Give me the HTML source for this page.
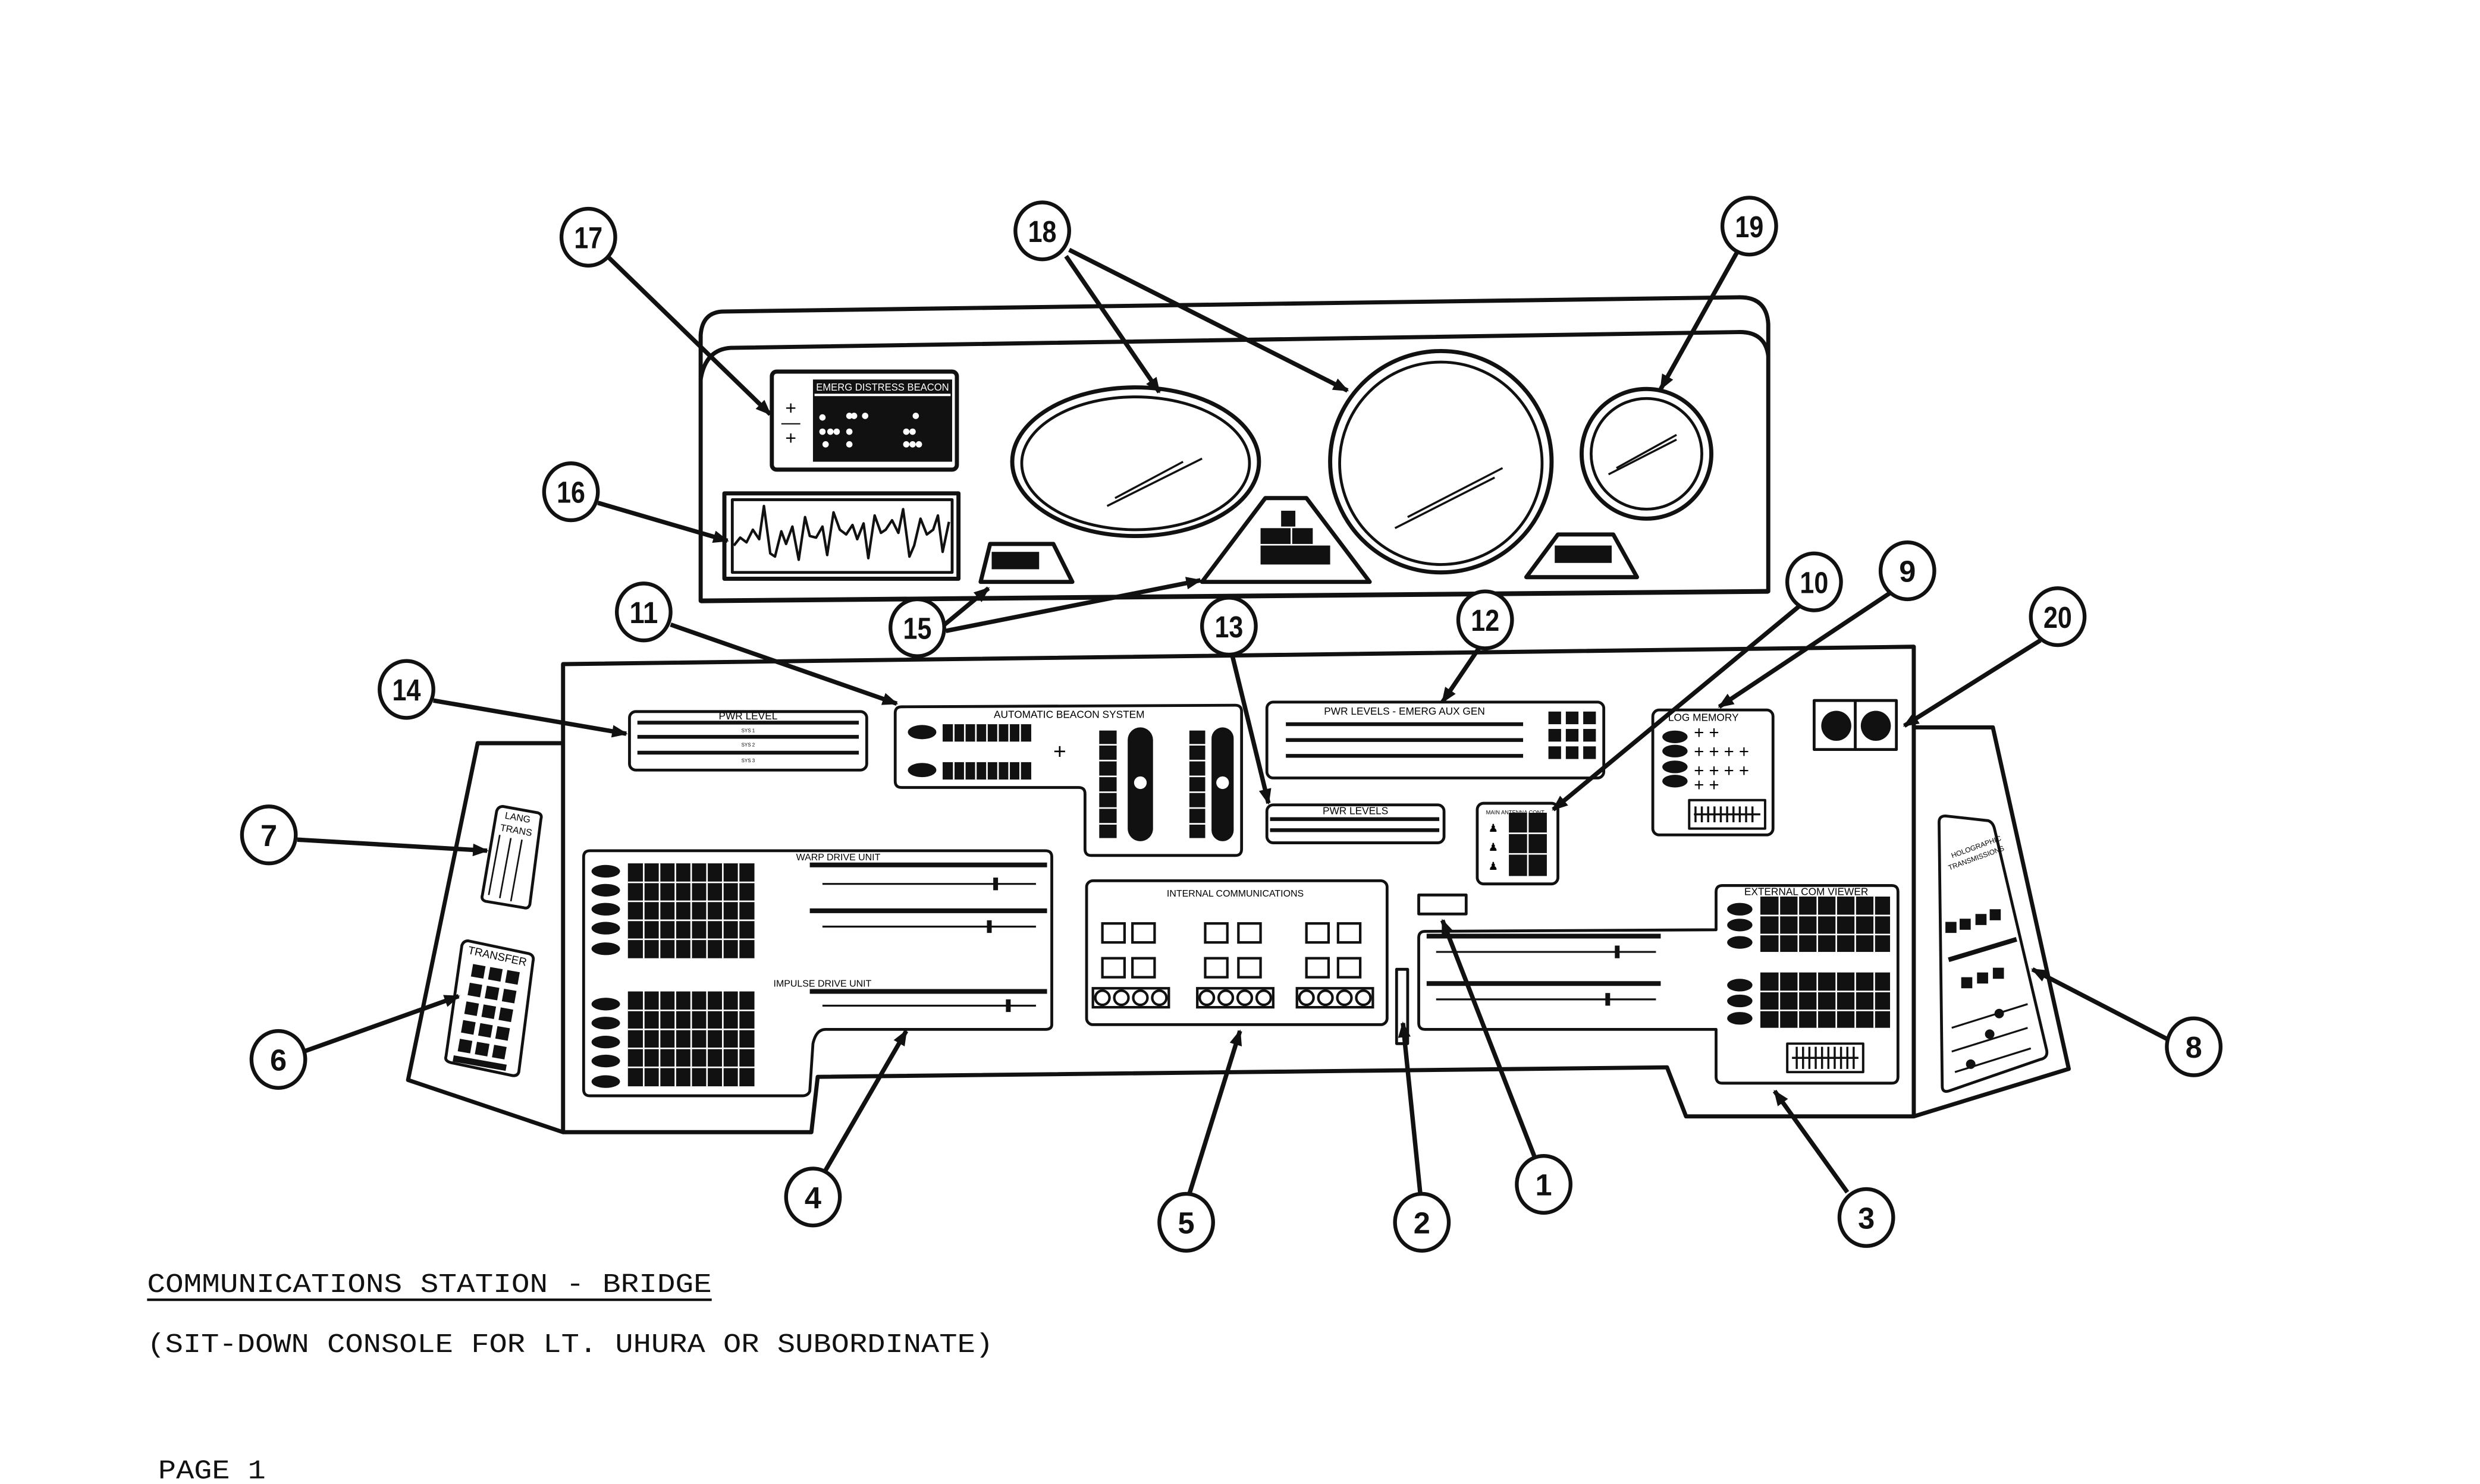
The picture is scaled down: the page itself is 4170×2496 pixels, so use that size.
<!DOCTYPE html>
<html><head><meta charset="utf-8"><style>
html,body{margin:0;padding:0;background:#fff}
svg{display:block}
text{font-family:"Liberation Sans",sans-serif}
.m{font-family:"Liberation Mono",monospace}
</style></head><body>
<svg width="4170" height="2496" viewBox="0 0 1568 938.5" preserveAspectRatio="none" xmlns="http://www.w3.org/2000/svg">
<defs>
<marker id="ah" markerWidth="10" markerHeight="8" refX="9" refY="4" orient="auto" markerUnits="userSpaceOnUse"><path d="M0,0 L10,4 L0,8 Z" fill="#111"/></marker>
</defs>
<rect width="1568" height="938.5" fill="#fff"/>
<g fill="none" stroke="#111" stroke-width="2.6" stroke-linejoin="round">
<path d="M443,380 L443,212 Q444,197 458,197 L1100,188 Q1117,188 1118,205 L1118,374 Z"/>
<path d="M443,240 Q446,221 462,220 L1100,210 Q1116,210 1118,225"/>
<line x1="443" y1="380" x2="1118" y2="374" stroke-width="3"/>
<rect x="488" y="235" width="117" height="62" rx="3"/>
<rect x="458" y="312" width="148" height="54"/>
<rect x="463" y="316" width="139" height="46" stroke-width="1.8"/>
<path d="M464,345 L468,340 472,343 476,335 480,341 483,320 487,350 490,352 494,336 497,344 501,333 505,354 509,327 512,339 516,340 520,333 523,351 527,324 531,335 535,338 539,332 542,341 546,331 549,353 553,326 557,337 560,335 564,329 568,337 571,322 575,352 578,345 582,328 586,338 590,335 593,326 596,349 600,330" stroke-width="1.6"/>
<ellipse cx="718" cy="292" rx="78" ry="47"/>
<ellipse cx="718" cy="293" rx="72" ry="42" stroke-width="1.8"/>
<ellipse cx="911" cy="292" rx="70" ry="70"/>
<ellipse cx="911" cy="293" rx="64" ry="64" stroke-width="1.8"/>
<ellipse cx="1041" cy="287" rx="41" ry="41"/>
<ellipse cx="1041" cy="287" rx="35" ry="35" stroke-width="1.8"/>
<g stroke-width="1.3"><path d="M700,320 L760,290 M705,315 L748,292 M882,334 L945,302 M890,327 L950,296 M1017,300 L1060,278 M1022,296 L1060,275"/></g>
<path d="M620,368 L626,344 L666,344 L678,368 Z"/>
<path d="M760,368 L800,315 L826,315 L866,368 Z"/>
<path d="M965,365 L985,338 L1020,338 L1035,365 Z"/>

<path d="M356,420 L1210,409 L1210,706 L1066,706 L1054,675 L517,681 L513,716 L356,716 Z"/>
<path d="M356,470 L302,470 L258,683 L356,716"/>
<path d="M1210,460 L1260,460 L1308,676 L1210,706"/>

<rect x="398" y="450" width="150" height="37" rx="4" stroke-width="1.8"/>
<path d="M566,451 Q566,447 570,447 L781,446 Q785,446 785,450 L785,537 Q785,541 781,541 L690,541 Q686,541 686,537 L686,502 Q686,498 682,498 L570,498 Q566,498 566,494 Z" stroke-width="1.8"/>
<rect x="801" y="444" width="213" height="48" rx="4" stroke-width="1.8"/>
<rect x="801" y="509" width="112" height="24" rx="4" stroke-width="1.8"/>
<rect x="934" y="508" width="51" height="51" rx="4" stroke-width="1.8"/>
<rect x="1045" y="449" width="76" height="79" rx="4" stroke-width="1.8"/>
<rect x="1147" y="443" width="52" height="31" stroke-width="1.8"/>
<line x1="1173" y1="443" x2="1173" y2="474" stroke-width="1.8"/>
<path d="M369,542 Q369,538 373,538 L661,538 Q665,538 665,542 L665,648 Q665,651 661,651 L522,651 Q516,651 514,660 L512,690 Q511,693 507,693 L373,693 Q369,693 369,689 Z" stroke-width="1.8"/>
<rect x="687" y="557" width="190" height="91" rx="4" stroke-width="1.8"/>
<rect x="897" y="566" width="30" height="12" stroke-width="1.8"/>
<rect x="883" y="613" width="7" height="47" stroke-width="1.8"/>
<path d="M901,589 L1085,588 L1085,564 Q1085,560 1089,560 L1196,560 Q1200,560 1200,564 L1200,681 Q1200,685 1196,685 L1089,685 Q1085,685 1085,681 L1085,651 L901,651 Q897,651 897,647 L897,593 Q897,589 901,589 Z" stroke-width="1.8"/>
<rect x="1130" y="660" width="48" height="18" stroke-width="1.5"/>
<path d="M1230,516 L1257,519 Q1260,520 1261,524 L1294,664 Q1295,669 1290,670 L1232,690 Q1228,691 1228,687 L1226,520 Q1226,516 1230,516 Z" stroke-width="1.8"/>
<path d="M318,510 L340,514 Q343,515 342,518 L335,572 Q334,575 331,574 L307,570 Q304,569 305,566 L314,513 Q315,510 318,510 Z" stroke-width="1.8"/>
<path d="M296,595 L334,603 Q338,604 337,608 L328,678 Q327,681 323,680 L285,672 Q281,671 282,668 L292,598 Q293,595 296,595 Z" stroke-width="1.8"/>
<path d="M316,528 L309,566 M323,530 L316,568 M330,531 L323,570" stroke-width="1"/>
<rect x="1068" y="506" width="48" height="18" stroke-width="1.5"/>
</g>

<g fill="#111">
<rect x="514" y="240" width="88" height="52"/>
<rect x="627" y="349" width="30" height="11"/>
<rect x="810" y="323" width="9" height="10"/><rect x="797" y="334" width="19" height="10"/><rect x="797" y="345" width="44" height="12"/>
<rect x="817" y="334" width="13" height="10"/>
<rect x="983" y="345" width="36" height="11"/>
<circle cx="1161" cy="459" r="9.5"/><circle cx="1186" cy="459" r="9.5"/>
</g>
<g fill="#fff"><rect x="515" y="249" width="86" height="1.5"/>
<circle cx="520" cy="264" r="2"/><circle cx="537" cy="263" r="2"/><circle cx="540" cy="263" r="2"/><circle cx="547" cy="263" r="2"/><circle cx="520" cy="273" r="2"/><circle cx="525" cy="273" r="2"/><circle cx="529" cy="273" r="2"/><circle cx="537" cy="273" r="2"/><circle cx="573" cy="273" r="2"/><circle cx="577" cy="273" r="2"/><circle cx="522" cy="281" r="2"/><circle cx="537" cy="281" r="2"/><circle cx="573" cy="281" r="2"/><circle cx="577" cy="281" r="2"/><circle cx="581" cy="281" r="2"/><circle cx="579" cy="263" r="2"/></g>
<text x="558" y="247" font-size="6.5" fill="#fff" text-anchor="middle" textLength="84" lengthAdjust="spacingAndGlyphs">EMERG DISTRESS BEACON</text>
<text x="500" y="262" font-size="12" text-anchor="middle">+</text><text x="500" y="281" font-size="12" text-anchor="middle">+</text>
<line x1="494" y1="268" x2="506" y2="268" stroke="#111" stroke-width="0.8"/>

<g stroke="#111" stroke-width="2.4"><line x1="403" y1="457" x2="543" y2="457"/><line x1="403" y1="466" x2="543" y2="466"/><line x1="403" y1="476" x2="543" y2="476"/>
<line x1="813" y1="458" x2="963" y2="458"/><line x1="813" y1="468" x2="963" y2="468"/><line x1="813" y1="478" x2="963" y2="478"/>
<line x1="803" y1="518" x2="910" y2="518"/><line x1="803" y1="525" x2="910" y2="525"/>
<line x1="512" y1="547" x2="662" y2="547" stroke-width="3"/><line x1="512" y1="576" x2="662" y2="576" stroke-width="3"/><line x1="512" y1="627" x2="662" y2="627" stroke-width="3"/>
<line x1="902" y1="592" x2="1050" y2="592" stroke-width="3"/><line x1="902" y1="622" x2="1050" y2="622" stroke-width="3"/>
</g>
<g stroke="#111" stroke-width="1.2"><line x1="520" y1="559" x2="655" y2="559"/><line x1="520" y1="586" x2="655" y2="586"/><line x1="520" y1="636" x2="655" y2="636"/>
<line x1="908" y1="602" x2="1047" y2="602"/><line x1="908" y1="632" x2="1047" y2="632"/>
<line x1="1234" y1="650" x2="1282" y2="635"/><line x1="1234" y1="665" x2="1282" y2="650"/><line x1="1236" y1="678" x2="1284" y2="663"/>
<line x1="1232" y1="607" x2="1275" y2="594" stroke-width="3"/>
</g>
<g fill="#111"><rect x="628" y="555" width="3" height="8"/><rect x="624" y="582" width="3" height="8"/><rect x="636" y="632" width="3" height="8"/><rect x="1021" y="598" width="3" height="8"/><rect x="1015" y="628" width="3" height="8"/>
<circle cx="1264" cy="641" r="3"/><circle cx="1258" cy="654" r="3"/><circle cx="1246" cy="673" r="3"/></g>
<g font-size="5.5" text-anchor="middle"><text x="473" y="455" font-size="6.5">PWR LEVEL</text><text x="473" y="463" font-size="3">SYS 1</text><text x="473" y="472" font-size="3">SYS 2</text><text x="473" y="482" font-size="3">SYS 3</text>
<text x="676" y="454" font-size="6.5">AUTOMATIC BEACON SYSTEM</text>
<text x="888" y="452" font-size="6.5">PWR LEVELS - EMERG AUX GEN</text>
<text x="857" y="515" font-size="6.5">PWR LEVELS</text>
<text x="1077" y="456" font-size="6.5">LOG MEMORY</text>
<text x="781" y="567" font-size="6">INTERNAL COMMUNICATIONS</text>
<text x="1142" y="566" font-size="6.5">EXTERNAL COM VIEWER</text>
<text x="530" y="544" font-size="6">WARP DRIVE UNIT</text>
<text x="520" y="624" font-size="6">IMPULSE DRIVE UNIT</text>
<text x="958" y="515" font-size="3.5">MAIN ANTENNA CONT</text>
<text x="327" y="519" font-size="6" transform="rotate(10 327 519)">LANG</text><text x="326" y="527" font-size="6" transform="rotate(10 326 527)">TRANS</text>
<text x="314" y="607" font-size="7" transform="rotate(12 314 607)">TRANSFER</text>
<text x="1250" y="537" font-size="4.5" transform="rotate(-20 1250 537)">HOLOGRAPHIC</text><text x="1250" y="544" font-size="4.5" transform="rotate(-20 1250 544)">TRANSMISSIONS</text>
</g>
<g fill="#111">
<ellipse cx="583" cy="463" rx="9" ry="4.5"/><ellipse cx="583" cy="487" rx="9" ry="4.5"/>
<rect x="596" y="458" width="56" height="11"/><rect x="596" y="482" width="56" height="11"/>
<rect x="695" y="462" width="11" height="68"/><rect x="752" y="462" width="10" height="68"/>
<rect x="713" y="460" width="16" height="72" rx="8"/><rect x="766" y="460" width="14" height="72" rx="7"/>
<rect x="979" y="450" width="8" height="8"/><rect x="990" y="450" width="8" height="8"/><rect x="1001" y="450" width="8" height="8"/>
<rect x="979" y="461" width="8" height="8"/><rect x="990" y="461" width="8" height="8"/><rect x="1001" y="461" width="8" height="8"/>
<rect x="979" y="472" width="8" height="8"/><rect x="990" y="472" width="8" height="8"/><rect x="1001" y="472" width="8" height="8"/>
<rect x="954" y="514" width="24" height="40"/>
<ellipse cx="1059" cy="466" rx="8" ry="4"/><ellipse cx="1059" cy="475" rx="8" ry="4"/><ellipse cx="1059" cy="485" rx="8" ry="4"/><ellipse cx="1059" cy="494" rx="8" ry="4"/>
<rect x="397" y="546" width="80" height="60"/><rect x="397" y="627" width="80" height="60"/>
<ellipse cx="383" cy="551" rx="9" ry="4"/><ellipse cx="383" cy="563" rx="9" ry="4"/><ellipse cx="383" cy="575" rx="9" ry="4"/><ellipse cx="383" cy="587" rx="9" ry="4"/><ellipse cx="383" cy="600" rx="9" ry="4"/>
<ellipse cx="383" cy="635" rx="9" ry="4"/><ellipse cx="383" cy="647" rx="9" ry="4"/><ellipse cx="383" cy="659" rx="9" ry="4"/><ellipse cx="383" cy="671" rx="9" ry="4"/><ellipse cx="383" cy="684" rx="9" ry="4"/>
<rect x="1113" y="567" width="82" height="35"/><rect x="1113" y="615" width="82" height="35"/>
<ellipse cx="1100" cy="575" rx="8" ry="4"/><ellipse cx="1100" cy="585" rx="8" ry="4"/><ellipse cx="1100" cy="596" rx="8" ry="4"/>
<ellipse cx="1100" cy="623" rx="8" ry="4"/><ellipse cx="1100" cy="633" rx="8" ry="4"/><ellipse cx="1100" cy="644" rx="8" ry="4"/>
<rect x="1230" y="583" width="7" height="7"/><rect x="1239" y="581" width="7" height="7"/><rect x="1249" y="578" width="7" height="7"/><rect x="1258" y="575" width="7" height="7"/>
<rect x="1240" y="618" width="7" height="7"/><rect x="1250" y="615" width="7" height="7"/><rect x="1260" y="612" width="7" height="7"/>
<g transform="rotate(10 310 640)">
<rect x="294" y="612" width="8" height="8"/><rect x="305" y="612" width="8" height="8"/><rect x="316" y="612" width="8" height="8"/>
<rect x="294" y="624" width="8" height="8"/><rect x="305" y="624" width="8" height="8"/><rect x="316" y="624" width="8" height="8"/>
<rect x="294" y="636" width="8" height="8"/><rect x="305" y="636" width="8" height="8"/><rect x="316" y="636" width="8" height="8"/>
<rect x="294" y="648" width="8" height="8"/><rect x="305" y="648" width="8" height="8"/><rect x="316" y="648" width="8" height="8"/>
<rect x="294" y="660" width="8" height="8"/><rect x="305" y="660" width="8" height="8"/><rect x="316" y="660" width="8" height="8"/>
<rect x="292" y="671" width="34" height="4"/>
</g>
</g>
<g stroke="#fff" stroke-width="1">
<path d="M603,458 V469 M610,458 V469 M617,458 V469 M624,458 V469 M631,458 V469 M638,458 V469 M645,458 V469 M603,482 V493 M610,482 V493 M617,482 V493 M624,482 V493 M631,482 V493 M638,482 V493 M645,482 V493"/>
<path d="M695,471 H706 M695,481 H706 M695,491 H706 M695,501 H706 M695,511 H706 M695,521 H706 M752,471 H762 M752,481 H762 M752,491 H762 M752,501 H762 M752,511 H762 M752,521 H762"/>
<path d="M966,514 V554 M954,527 H978 M954,540 H978"/>
<path d="M407,546 V606 M417,546 V606 M427,546 V606 M437,546 V606 M447,546 V606 M457,546 V606 M467,546 V606 M397,558 H477 M397,570 H477 M397,582 H477 M397,594 H477 M407,627 V687 M417,627 V687 M427,627 V687 M437,627 V687 M447,627 V687 M457,627 V687 M467,627 V687 M397,639 H477 M397,651 H477 M397,663 H477 M397,675 H477"/>
<path d="M1125,567 V602 M1137,567 V602 M1149,567 V602 M1161,567 V602 M1173,567 V602 M1185,567 V602 M1113,579 H1195 M1113,591 H1195 M1125,615 V650 M1137,615 V650 M1149,615 V650 M1161,615 V650 M1173,615 V650 M1185,615 V650 M1113,627 H1195 M1113,639 H1195"/>
</g>
<g fill="#fff"><circle cx="721" cy="495" r="4"/><circle cx="773" cy="495" r="4"/></g>
<text x="670" y="480" font-size="14" text-anchor="middle">+</text>
<g font-size="11"><text x="1071" y="467">+ +</text><text x="1071" y="479">+ + + +</text><text x="1071" y="491">+ + + +</text><text x="1071" y="500">+ +</text></g>
<g fill="none" stroke="#111" stroke-width="1.3"><path d="M1071,515 L1113,515 M1072,510 V520 M1076,510 V520 M1080,510 V520 M1084,510 V520 M1088,510 V520 M1092,510 V520 M1096,510 V520 M1100,510 V520 M1104,510 V520 M1108,510 V520"/>
<path d="M1133,669 H1175 M1136,662 V676 M1140,662 V676 M1144,662 V676 M1148,662 V676 M1152,662 V676 M1156,662 V676 M1160,662 V676 M1164,662 V676 M1168,662 V676 M1172,662 V676"/></g>
<text x="941" y="526" font-size="7">♟</text><text x="941" y="538" font-size="7">♟</text><text x="941" y="550" font-size="7">♟</text>
<g fill="none" stroke="#111" stroke-width="1.6">
<rect x="697" y="584" width="14" height="12"/><rect x="716" y="584" width="14" height="12"/><rect x="762" y="584" width="14" height="12"/><rect x="783" y="584" width="14" height="12"/><rect x="826" y="584" width="14" height="12"/><rect x="846" y="584" width="14" height="12"/>
<rect x="697" y="606" width="14" height="12"/><rect x="716" y="606" width="14" height="12"/><rect x="762" y="606" width="14" height="12"/><rect x="783" y="606" width="14" height="12"/><rect x="826" y="606" width="14" height="12"/><rect x="846" y="606" width="14" height="12"/>
<rect x="691" y="625" width="48" height="12"/><rect x="757" y="625" width="48" height="12"/><rect x="820" y="625" width="48" height="12"/>
<circle cx="697" cy="631" r="4.5"/><circle cx="709" cy="631" r="4.5"/><circle cx="721" cy="631" r="4.5"/><circle cx="733" cy="631" r="4.5"/>
<circle cx="763" cy="631" r="4.5"/><circle cx="775" cy="631" r="4.5"/><circle cx="787" cy="631" r="4.5"/><circle cx="799" cy="631" r="4.5"/>
<circle cx="826" cy="631" r="4.5"/><circle cx="838" cy="631" r="4.5"/><circle cx="850" cy="631" r="4.5"/><circle cx="862" cy="631" r="4.5"/>
</g>

<g stroke="#111" stroke-width="2.8" fill="none" marker-end="url(#ah)">
<line x1="385" y1="163" x2="487" y2="262"/>
<line x1="674" y1="162" x2="733" y2="248"/>
<line x1="676" y1="158" x2="852" y2="247"/>
<line x1="1098" y1="160" x2="1050" y2="246"/>
<line x1="378" y1="318" x2="460" y2="342"/>
<line x1="424" y1="395" x2="567" y2="445"/>
<line x1="596" y1="396" x2="625" y2="372"/>
<line x1="598" y1="399" x2="759" y2="367"/>
<line x1="779" y1="414" x2="802" y2="508"/>
<line x1="935" y1="410" x2="912" y2="444"/>
<line x1="1138" y1="383" x2="982" y2="512"/>
<line x1="1195" y1="375" x2="1087" y2="447"/>
<line x1="1290" y1="405" x2="1204" y2="459"/>
<line x1="274" y1="443" x2="396" y2="464"/>
<line x1="188" y1="531" x2="308" y2="538"/>
<line x1="192" y1="665" x2="290" y2="630"/>
<line x1="522" y1="740" x2="573" y2="652"/>
<line x1="752" y1="755" x2="784" y2="652"/>
<line x1="898" y1="755" x2="887" y2="647"/>
<line x1="970" y1="731" x2="912" y2="582"/>
<line x1="1168" y1="754" x2="1122" y2="690"/>
<line x1="1370" y1="657" x2="1285" y2="613"/>
</g>
<g fill="#fff" stroke="#111" stroke-width="2.4">
<ellipse cx="372" cy="150" rx="17" ry="18"/><ellipse cx="659" cy="146" rx="17" ry="18"/><ellipse cx="1106" cy="143" rx="17" ry="18"/>
<ellipse cx="361" cy="311" rx="17" ry="18"/><ellipse cx="407" cy="387" rx="17" ry="18"/><ellipse cx="580" cy="397" rx="17" ry="18"/>
<ellipse cx="777" cy="396" rx="17" ry="18"/><ellipse cx="939" cy="392" rx="17" ry="18"/><ellipse cx="1147" cy="368" rx="17" ry="18"/>
<ellipse cx="1206" cy="361" rx="17" ry="18"/><ellipse cx="1301" cy="390" rx="17" ry="18"/><ellipse cx="257" cy="436" rx="17" ry="18"/>
<ellipse cx="170" cy="528" rx="17" ry="18"/><ellipse cx="176" cy="670" rx="17" ry="18"/><ellipse cx="514" cy="757" rx="17" ry="18"/>
<ellipse cx="750" cy="773" rx="17" ry="18"/><ellipse cx="899" cy="773" rx="17" ry="18"/><ellipse cx="976" cy="749" rx="17" ry="18"/>
<ellipse cx="1180" cy="770" rx="17" ry="18"/><ellipse cx="1387" cy="662" rx="17" ry="18"/>
</g>
<g font-size="19" font-weight="bold" text-anchor="middle" fill="#111">
<text x="372" y="157" textLength="18" lengthAdjust="spacingAndGlyphs">17</text><text x="659" y="153" textLength="18" lengthAdjust="spacingAndGlyphs">18</text><text x="1106" y="150" textLength="18" lengthAdjust="spacingAndGlyphs">19</text>
<text x="361" y="318" textLength="18" lengthAdjust="spacingAndGlyphs">16</text><text x="407" y="394" textLength="18" lengthAdjust="spacingAndGlyphs">11</text><text x="580" y="404" textLength="18" lengthAdjust="spacingAndGlyphs">15</text>
<text x="777" y="403" textLength="18" lengthAdjust="spacingAndGlyphs">13</text><text x="939" y="399" textLength="18" lengthAdjust="spacingAndGlyphs">12</text><text x="1147" y="375" textLength="18" lengthAdjust="spacingAndGlyphs">10</text>
<text x="1206" y="368">9</text><text x="1301" y="397" textLength="18" lengthAdjust="spacingAndGlyphs">20</text><text x="257" y="443" textLength="18" lengthAdjust="spacingAndGlyphs">14</text>
<text x="170" y="535">7</text><text x="176" y="677">6</text><text x="514" y="764">4</text>
<text x="750" y="780">5</text><text x="899" y="780">2</text><text x="976" y="756">1</text>
<text x="1180" y="777">3</text><text x="1387" y="669">8</text>
</g>
<g font-size="17" fill="#111">
<text x="93" y="817" class="m" textLength="357" lengthAdjust="spacingAndGlyphs">COMMUNICATIONS STATION - BRIDGE</text>
<text x="93" y="855" class="m" textLength="535" lengthAdjust="spacingAndGlyphs">(SIT-DOWN CONSOLE FOR LT. UHURA OR SUBORDINATE)</text>
<text x="100" y="935" class="m" textLength="68" lengthAdjust="spacingAndGlyphs">PAGE 1</text>
</g>
<line x1="93" y1="822" x2="450" y2="822" stroke="#111" stroke-width="1.6"/>
</svg>
</body></html>
